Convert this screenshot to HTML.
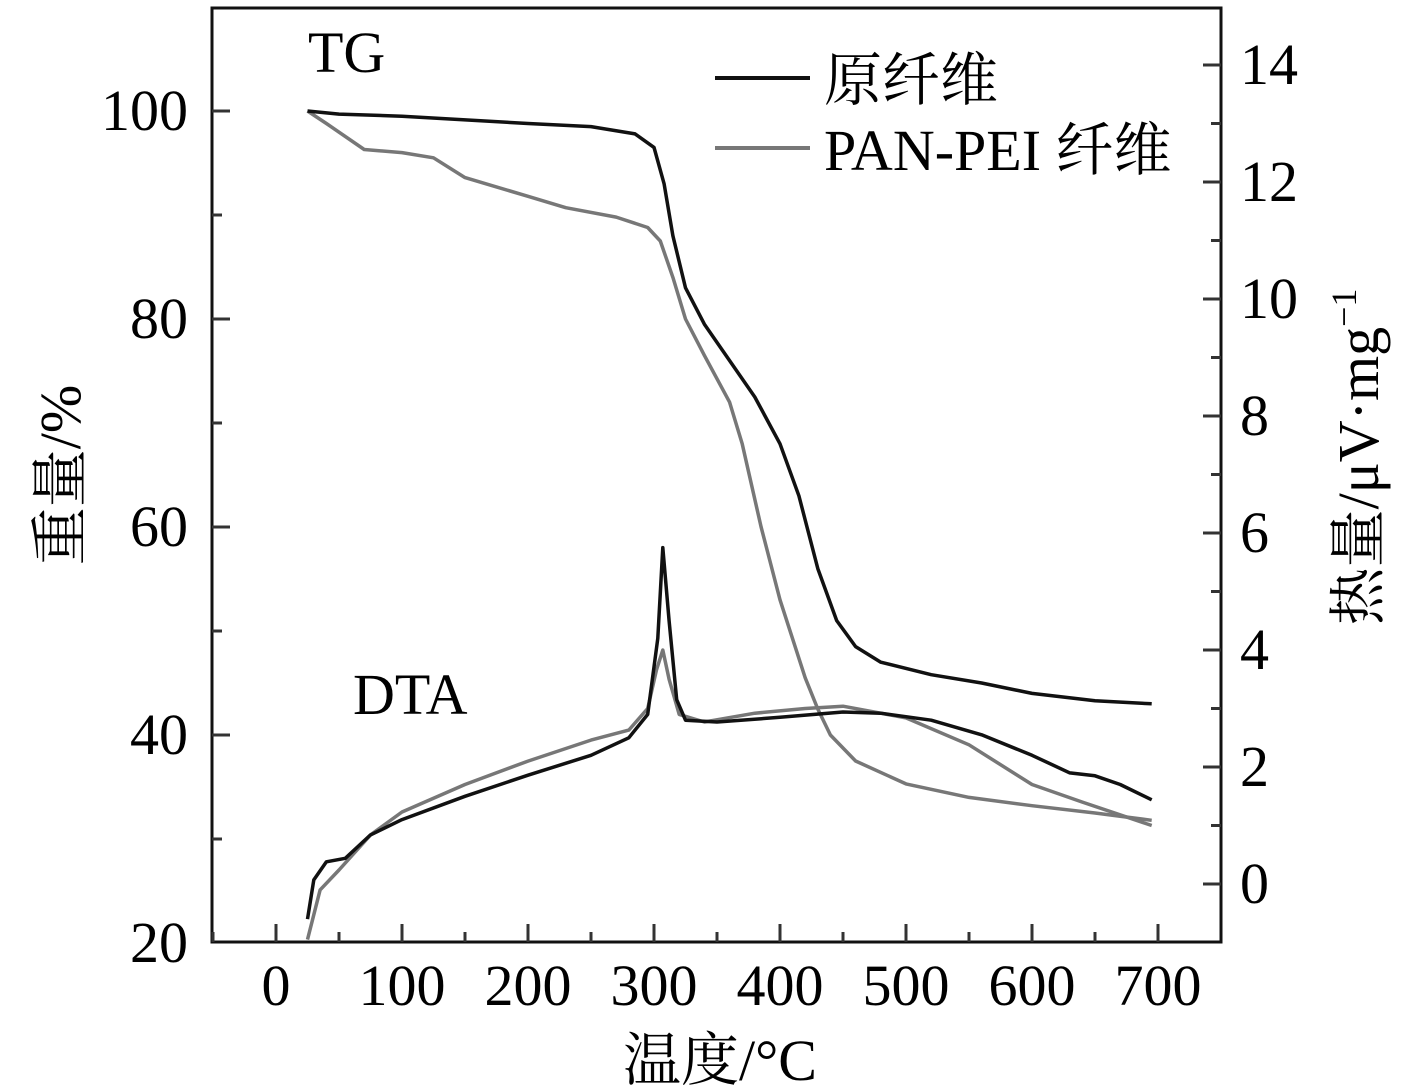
<!DOCTYPE html>
<html><head><meta charset="utf-8"><style>
html,body{margin:0;padding:0;background:#fff;}
svg{display:block;font-family:"Liberation Serif","Noto Serif CJK SC",serif;}
</style></head><body>
<svg id="chart" width="1417" height="1091" viewBox="0 0 1417 1091" xmlns="http://www.w3.org/2000/svg">
<g id="axes"></g>
<g id="series"></g>
<text x="308" y="72" font-size="58">TG</text>
<text x="353" y="714" font-size="58">DTA</text>
<g>
<line x1="715" y1="78" x2="810" y2="78" stroke="#111" stroke-width="4"/>
<text x="824" y="100" font-size="58">原纤维</text>
<line x1="715" y1="148" x2="810" y2="148" stroke="#777" stroke-width="4"/>
<text x="824" y="170" font-size="58">PAN-PEI 纤维</text>
</g>
<text x="720" y="1080" font-size="58" text-anchor="middle">温度/°C</text>
<text transform="translate(80,475) rotate(-90)" font-size="58" text-anchor="middle">重量/%</text>
<text transform="translate(1378,457) rotate(-90)" font-size="58" text-anchor="middle">热量/μV·mg<tspan font-size="36" dy="-22">−1</tspan></text>
</svg>
<script>
const xTicks=[0,100,200,300,400,500,600,700];
const leftTicks=[20,40,60,80,100];
const rightTicks=[0,2,4,6,8,10,12,14];
const tgRawX=[25,50,100,200,250,285,300,308,315,325,340,360,380,400,415,430,445,460,480,520,560,600,650,695];
const tgRawY=[100,99.7,99.5,98.8,98.5,97.8,96.5,93,88,83,79.5,76,72.5,68,63,56,51,48.5,47,45.8,45,44,43.3,43];
const tgPanX=[25,40,70,100,125,150,200,230,270,295,305,315,325,340,360,370,385,400,420,430,440,460,500,550,600,650,695];
const tgPanY=[100,98.8,96.3,96,95.5,93.6,91.8,90.7,89.8,88.8,87.5,84,80,76.5,72,68,60,53,45.5,42.5,40,37.5,35.3,34,33.2,32.5,31.8];
const dtaRawX=[25,30,40,55,75,100,150,200,250,280,295,303,307,312,318,325,350,400,450,480,520,560,600,630,650,670,695];
const dtaRawY=[-0.6,0.07,0.38,0.44,0.84,1.1,1.5,1.86,2.2,2.5,2.9,4.2,5.75,4.5,3.15,2.8,2.77,2.85,2.94,2.92,2.8,2.55,2.2,1.9,1.85,1.7,1.44];
const dtaPanX=[25,35,50,75,100,150,200,250,280,295,302,307,312,320,340,380,420,450,500,550,600,640,695];
const dtaPanY=[-0.95,-0.1,0.24,0.84,1.23,1.7,2.1,2.46,2.63,3.0,3.66,4.0,3.5,2.9,2.77,2.92,3.0,3.04,2.84,2.38,1.7,1.4,1.0];

const L=212,R=1221,T=8,B=942;
const xs=v=>276+v*1.26;
const yl=v=>943-(v-20)*10.4;
const yr=v=>884-v*58.5;
const NS='http://www.w3.org/2000/svg';
const axes=document.getElementById('axes'),ser=document.getElementById('series');
function mk(tag,attrs,parent){const e=document.createElementNS(NS,tag);for(const k in attrs)e.setAttribute(k,attrs[k]);parent.appendChild(e);return e;}
const frame=mk('rect',{x:L,y:T,width:R-L,height:B-T,fill:'none',stroke:'#111','stroke-width':3},axes);


for(let v=-50;v<=750;v+=50){const x=xs(v);if(x<=L||x>=R)continue;const major=v%100===0;
 const t=mk('line',{x1:x,y1:B,x2:x,y2:B-(major?18:10),stroke:'#333','stroke-width':3},axes);
 
 }
xTicks.forEach(v=>{const t=mk('text',{x:xs(v),y:1005,'font-size':58,'text-anchor':'middle'},axes);t.textContent=v;
 
 });
for(let v=30;v<=110;v+=10){const y=yl(v);if(y<=T)continue;const major=v%20===0;
 const t=mk('line',{x1:L,y1:y,x2:L+(major?18:10),y2:y,stroke:'#333','stroke-width':3},axes);
 
 }
leftTicks.forEach(v=>{const t=mk('text',{x:188,y:yl(v)+19,'font-size':58,'text-anchor':'end'},axes);t.textContent=v;
 
 });
for(let v=-1;v<=15;v+=1){const y=yr(v);if(y<=T+2||y>=B-2)continue;const major=v%2===0;
 const t=mk('line',{x1:R,y1:y,x2:R-(major?18:10),y2:y,stroke:'#333','stroke-width':3},axes);
 
 }
rightTicks.forEach(v=>{const t=mk('text',{x:1240,y:yr(v)+19,'font-size':58},axes);t.textContent=v;
 
 });
function line(X,Y,fy,color,name){const d=X.map((x,i)=>(i?'L':'M')+xs(x).toFixed(1)+','+fy(Y[i]).toFixed(1)).join('');
 const p=mk('path',{d:d,fill:'none',stroke:color,'stroke-width':3.5,'stroke-linejoin':'round'},ser);
 
 }
line(tgPanX,tgPanY,yl,'#777','tg-pan-pei-line');
line(dtaPanX,dtaPanY,yr,'#777','dta-pan-pei-line');
line(tgRawX,tgRawY,yl,'#111','tg-raw-fiber-line');
line(dtaRawX,dtaRawY,yr,'#111','dta-raw-fiber-line');
</script>
</body></html>
